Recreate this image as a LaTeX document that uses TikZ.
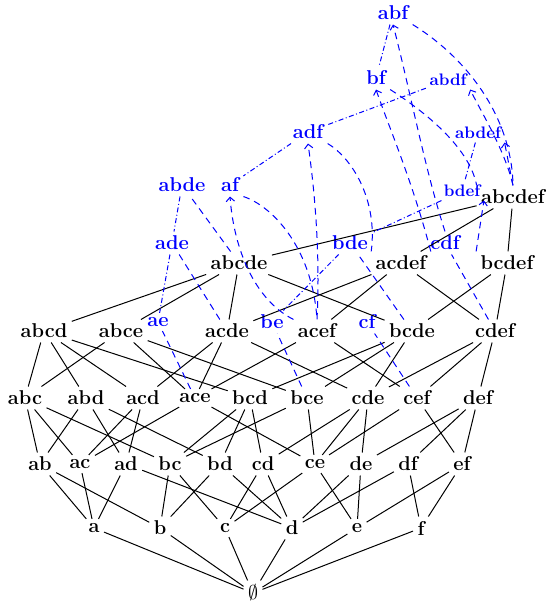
\documentclass[tikz,border=0pt]{standalone}
\usetikzlibrary{arrows.meta}
\begin{document}
\begin{tikzpicture}[x=0.6pt,y=-0.6pt,
  bk/.style={font=\large\bfseries,inner sep=2.5pt},
  bl/.style={font=\large\bfseries,text=blue,inner sep=2.5pt},
  bls/.style={font=\normalsize\bfseries,text=blue,inner sep=2pt},
  ln/.style={line width=0.6pt},
  dd/.style={blue,line width=0.6pt,dash pattern=on 3pt off 1.5pt on 0.6pt off 1.5pt},
  da/.style={blue,line width=0.6pt,dash pattern=on 4pt off 3pt},
  dar/.style={da,-{Straight Barb[length=2.5pt,width=5pt]}}]
\useasboundingbox (0,0) rectangle (545,603);
% level 0,1
\node[bk,font=\large] (E) at (253,593) {$\emptyset$};
\node[bk] (a) at (94,528) {a};
\node[bk] (b) at (160,528) {b};
\node[bk] (c) at (225,528) {c};
\node[bk] (d) at (292,528) {d};
\node[bk] (e) at (357,528) {e};
\node[bk] (f) at (421,528) {f};
% level 2
\node[bk] (ab) at (40,464) {ab};
\node[bk] (ac) at (80,464) {ac};
\node[bk] (ad) at (126,464) {ad};
\node[bk] (bc) at (170,464) {bc};
\node[bk] (bd) at (220,464) {bd};
\node[bk] (cd) at (263,464) {cd};
\node[bk] (ce) at (315,464) {ce};
\node[bk] (de) at (361,464) {de};
\node[bk] (df) at (408,464) {df};
\node[bk] (ef) at (462,464) {ef};
% level 3
\node[bk] (abc) at (25,398) {abc};
\node[bk] (abd) at (86,398) {abd};
\node[bk] (acd) at (143,398) {acd};
\node[bk] (ace) at (195,398) {ace};
\node[bk] (bcd) at (250,398) {bcd};
\node[bk] (bce) at (307,398) {bce};
\node[bk] (cde) at (368,398) {cde};
\node[bk] (cef) at (417,398) {cef};
\node[bk] (def) at (478,398) {def};
% level 4
\node[bk] (abcd) at (44,331) {abcd};
\node[bk] (abce) at (121,331) {abce};
\node[bk] (acde) at (227,331) {acde};
\node[bk] (acef) at (317,331) {acef};
\node[bk] (bcde) at (412,331) {bcde};
\node[bk] (cdef) at (495,331) {cdef};
\node[bl] (ae) at (158,322) {ae};
\node[bl] (be) at (272,322) {be};
\node[bl] (cf) at (367,322) {cf};
% level 5
\node[bk] (abcde) at (239,263) {abcde};
\node[bk] (acdef) at (401,263) {acdef};
\node[bk] (bcdef) at (507,263) {bcdef};
\node[bl] (ade) at (172,243) {ade};
\node[bl] (bde) at (350,243) {bde};
\node[bl] (cdf) at (445,243) {cdf};
% level 6
\node[bk] (abcdef) at (513,197) {abcdef};
\node[bl] (abde) at (182,185) {abde};
\node[bl] (af) at (230,185) {af};
\node[bls] (bdef) at (462,191) {bdef};
\node[bl] (adf) at (308,132) {adf};
\node[bls] (abdef) at (478,133) {abdef};
\node[bl] (bf) at (376,78) {bf};
\node[bls] (abdf) at (448,80) {abdf};
\node[bl] (abf) at (393,13) {abf};
% black edges
\foreach \u/\v in {E/a,E/b,E/c,E/d,E/e,E/f,
  a/ab,a/ac,a/ad,b/ab,b/bc,b/bd,c/bc,c/cd,c/ce,d/ad,d/bd,d/cd,d/de,d/df,e/ce,e/de,e/ef,f/df,f/ef,
  ab/abc,ab/abd,ac/abc,ac/acd,ac/ace,ad/abd,ad/acd,bc/abc,bc/bcd,bc/bce,bd/abd,bd/bcd,cd/bcd,cd/cde,
  ce/ace,ce/bce,ce/cde,ce/cef,de/cde,de/def,df/def,ef/cef,ef/def,
  abc/abcd,abd/abcd,acd/abcd,bcd/abcd,abc/abce,ace/abce,bce/abce,acd/acde,ace/acde,cde/acde,
  ace/acef,cef/acef,bcd/bcde,bce/bcde,cde/bcde,cde/cdef,cef/cdef,def/cdef,
  abcd/abcde,abce/abcde,acde/abcde,bcde/abcde,acde/acdef,acef/acdef,cdef/acdef,bcde/bcdef,cdef/bcdef,
  abcde/abcdef,acdef/abcdef,bcdef/abcdef}
  \draw[ln] (\u) -- (\v);
% dash-dot lines
\foreach \u/\v in {abf/bf,abdf/adf,adf/af,abde/ade,ade/ae,abdef/bdef,bdef/bde,bde/be}
  \draw[dd] (\u) -- (\v);
% dashed lines to closures
\foreach \u/\v in {ace/ae,bce/be,cef/cf,acde/ade,bcde/bde,cdef/cdf,abcde/abde}
  \draw[da] (\u) -- (\v);
% curved dashed lines and arrows
\draw[dar] (acef.north west) .. controls (255,300) and (234,250) .. (af.south);
\draw[da] (af.south east) .. controls (270,205) and (312,245) .. (acef.north);
\draw[dar] (acef.north) .. controls (320,260) and (316,200) .. (adf.south);
\draw[da] (adf.south east) .. controls (352,158) and (378,200) .. (acdef.north west);
\draw[dar] (acdef.north east) .. controls (412,180) and (390,130) .. (bf.south);
\draw[da] (bf.south east) .. controls (430,115) and (470,150) .. (abcdef.north west);
\draw[dar] (cdf.north) .. controls (425,170) and (410,90) .. (abf.south);
\draw[da] (abf.south east) .. controls (470,60) and (512,120) .. (abcdef.north);
\draw[dar] (abcdef.north) .. controls (505,150) and (480,110) .. (abdf.south east);
\draw[dar] (abcdef.north) to (abdef.south east);
\draw[dar] (bcdef.north west) to (bdef.south east);
\end{tikzpicture}
\end{document}
